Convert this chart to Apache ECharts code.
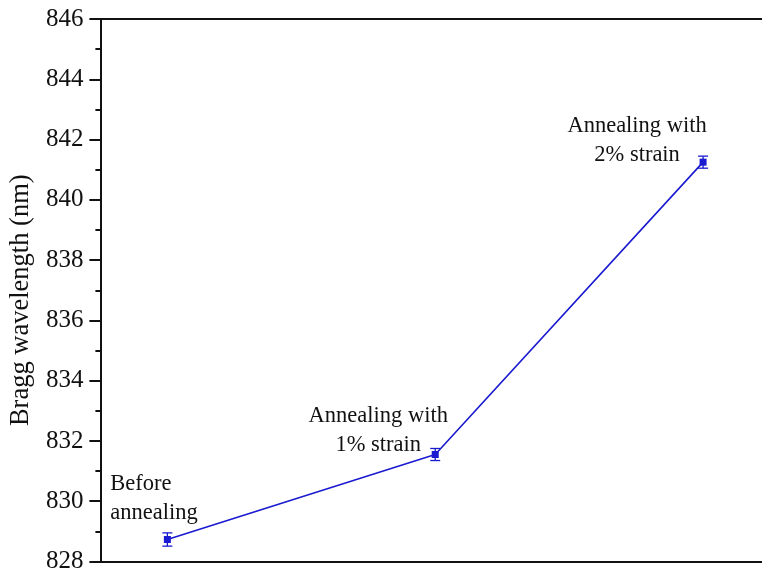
<!DOCTYPE html>
<html>
<head>
<meta charset="utf-8">
<script src="https://cdn.jsdelivr.net/npm/echarts@6/dist/echarts.min.js"></script>
<style>html,body{margin:0;padding:0;background:#fff;}#chart{width:762px;height:574px;}</style>
</head>
<body>
<div id="chart"></div>
<script>
const categories = ['Before\nannealing', 'Annealing with\n1% strain', 'Annealing with\n2% strain'];
const xPositions = [1, 2, 3];
const wavelength = [828.73, 831.55, 841.25];
const errors = [0.22, 0.2, 0.2];

const labelOffsets = [[-57, -41], [-57, -24], [-66, -22]];
const labelAligns = ['left', 'center', 'center'];

const chart = echarts.init(document.getElementById('chart'));
const serif = 'Liberation Serif';
const blue = '#1a1ad0';

const lineData = xPositions.map((x, i) => ({
  value: [x, wavelength[i]],
  label: {
    show: true,
    formatter: categories[i],
    position: 'inside',
    offset: labelOffsets[i],
    align: labelAligns[i],
    verticalAlign: 'middle',
    color: '#111',
    fontFamily: serif,
    fontSize: 22.5,
    lineHeight: 29
  }
}));

const errData = xPositions.map((x, i) => [x, wavelength[i] - errors[i], wavelength[i] + errors[i]]);

chart.setOption({
  animation: false,
  backgroundColor: '#fff',
  textStyle: { fontFamily: serif },
  grid: { left: 96, right: 0, top: 19, bottom: 12 },
  xAxis: [{
    type: 'value', min: 0.75, max: 3.22,
    axisLine: { show: true, onZero: false, lineStyle: { color: '#111', width: 2 } },
    axisTick: { show: false }, axisLabel: { show: false }, splitLine: { show: false }
  }, {
    type: 'value', position: 'top', min: 0.75, max: 3.22,
    axisLine: { show: true, onZero: false, lineStyle: { color: '#111', width: 2 } },
    axisTick: { show: false }, axisLabel: { show: false }, splitLine: { show: false }
  }],
  yAxis: {
    type: 'value', min: 828, max: 846, interval: 2,
    name: 'Bragg wavelength (nm)',
    nameLocation: 'middle', nameGap: 60,
    nameTextStyle: { fontFamily: serif, fontSize: 26.5, color: '#111', padding: [0, 20, 0, 0] },
    axisLine: { show: true, lineStyle: { color: '#111', width: 2 } },
    axisTick: { show: true, inside: false, length: 11, lineStyle: { color: '#111', width: 2 } },
    minorTick: { show: true, splitNumber: 2, length: 5, lineStyle: { color: '#111', width: 2 } },
    axisLabel: { fontFamily: serif, fontSize: 25, color: '#111', margin: 17 },
    splitLine: { show: false }
  },
  series: [{
    type: 'custom',
    xAxisIndex: 0,
    renderItem: function (params, api) {
      const x = api.value(0);
      const lo = api.coord([x, api.value(1)]);
      const hi = api.coord([x, api.value(2)]);
      const w = 5;
      const style = { stroke: blue, lineWidth: 1.3 };
      return {
        type: 'group',
        children: [
          { type: 'line', shape: { x1: lo[0], y1: lo[1], x2: hi[0], y2: hi[1] }, style: style },
          { type: 'line', shape: { x1: lo[0] - w, y1: lo[1], x2: lo[0] + w, y2: lo[1] }, style: style },
          { type: 'line', shape: { x1: hi[0] - w, y1: hi[1], x2: hi[0] + w, y2: hi[1] }, style: style }
        ]
      };
    },
    encode: { x: 0, y: [1, 2] },
    data: errData,
    z: 1
  }, {
    type: 'line',
    xAxisIndex: 0,
    data: lineData,
    symbol: 'rect',
    symbolSize: 7,
    lineStyle: { color: blue, width: 1.6 },
    itemStyle: { color: blue },
    z: 2
  }]
});
</script>
</body>
</html>
